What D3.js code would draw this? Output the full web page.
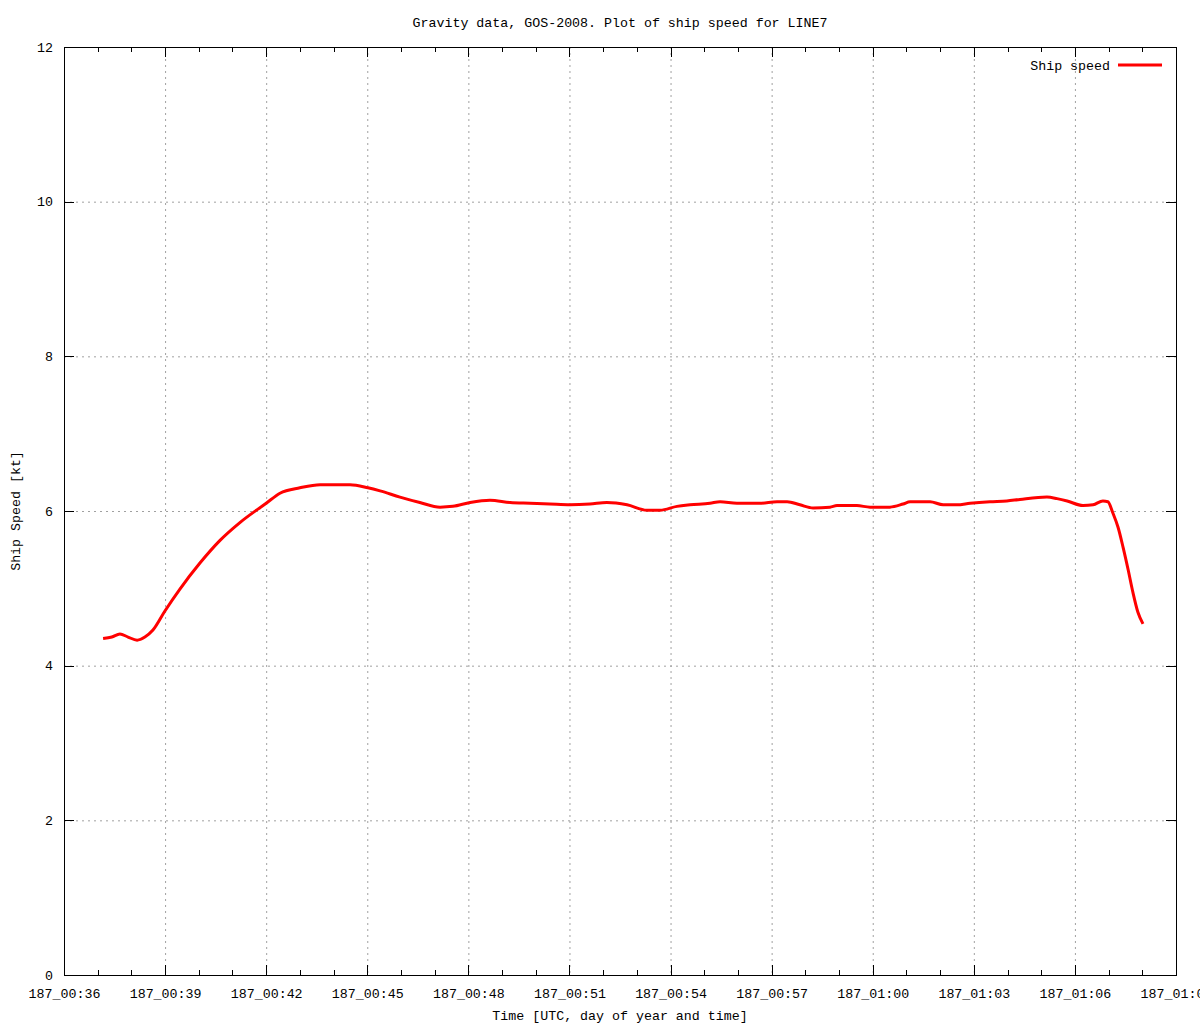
<!DOCTYPE html>
<html><head><meta charset="utf-8">
<script src="https://cdn.jsdelivr.net/npm/d3@7"></script>
<style>
body{margin:0;background:#fff;}
svg text{font-family:"Liberation Mono","DejaVu Sans Mono",monospace;font-size:13.3px;fill:#000;}
</style></head>
<body><svg id="c" width="1200" height="1024"></svg>
<script>
const title = "Gravity data, GOS-2008. Plot of ship speed for LINE7";
const xLabel = "Time [UTC, day of year and time]";
const yLabel = "Ship Speed [kt]";
const seriesName = "Ship speed";
// time in minutes after 00:00 UTC, day 187
const timeMin = [37.16,37.42,37.66,37.90,38.17,38.40,38.64,39.00,39.44,40.04,40.63,41.22,42.00,42.41,43.00,43.60,44.49,45.02,45.38,45.97,46.56,47.16,47.54,48.05,48.64,49.24,49.83,50.42,51.02,51.61,52.11,52.71,53.30,53.69,54.19,54.58,55.17,55.47,55.97,56.65,57.16,57.46,57.84,58.23,58.73,58.94,59.53,59.92,60.51,60.90,61.11,61.70,62.09,62.50,62.89,63.48,63.98,64.37,65.17,65.47,65.77,66.24,66.54,66.83,66.98,67.13,67.28,67.43,67.58,67.72,67.87,68.02];
const speed = [4.35,4.37,4.41,4.37,4.33,4.37,4.46,4.71,4.99,5.33,5.62,5.85,6.10,6.23,6.30,6.34,6.34,6.30,6.26,6.18,6.11,6.05,6.06,6.11,6.14,6.11,6.10,6.09,6.08,6.09,6.11,6.08,6.01,6.01,6.06,6.08,6.10,6.12,6.10,6.10,6.12,6.12,6.08,6.04,6.05,6.07,6.07,6.05,6.05,6.09,6.12,6.12,6.08,6.08,6.10,6.12,6.13,6.15,6.18,6.16,6.13,6.07,6.08,6.13,6.12,5.97,5.79,5.53,5.24,4.95,4.69,4.54];
const xTicks = [36,39,42,45,48,51,54,57,60,63,66,69];
const xMinorTicks = d3.range(36,70);
const yTicks = [0,2,4,6,8,10,12];

const L=64,R=1176,T=47,B=975;
const svg=d3.select("#c");
const x=d3.scaleLinear().domain([36,69]).range([L,R]);
const y=d3.scaleLinear().domain([0,12]).range([B,T]);
const fmt=m=>{const h=Math.floor(m/60),mm=m%60;return "187_"+String(h).padStart(2,"0")+":"+String(mm).padStart(2,"0");};

// grid
const g=svg.append("g");
g.selectAll(".gx").data(xTicks.filter(v=>v>36&&v<69)).join("line")
 .attr("x1",d=>x(d)+0.5).attr("x2",d=>x(d)+0.5).attr("y1",T).attr("y2",B)
 .attr("stroke","#a0a0a0").attr("stroke-dasharray","2,4");
g.selectAll(".gy").data(yTicks.filter(v=>v>0&&v<12)).join("line")
 .attr("y1",d=>y(d)+0.5).attr("y2",d=>y(d)+0.5).attr("x1",L).attr("x2",R)
 .attr("stroke","#a0a0a0").attr("stroke-dasharray","2,4");

// axes (ticks inward)
const ax=svg.append("g").attr("shape-rendering","crispEdges");
ax.append("g").attr("transform",`translate(0,${B})`).call(d3.axisBottom(x).tickValues(xMinorTicks).tickSize(-5).tickFormat("")).call(s=>s.select(".domain").remove());
ax.append("g").attr("transform",`translate(0,${B})`).call(d3.axisBottom(x).tickValues(xTicks).tickSize(-10).tickPadding(14).tickFormat(fmt))
 .call(s=>{s.select(".domain").remove();s.selectAll("text").attr("font-size",null).attr("font-family",null);});
ax.append("g").attr("transform",`translate(0,${T})`).call(d3.axisTop(x).tickValues(xMinorTicks).tickSize(-5).tickFormat("")).call(s=>s.select(".domain").remove());
ax.append("g").attr("transform",`translate(0,${T})`).call(d3.axisTop(x).tickValues(xTicks).tickSize(-10).tickFormat("")).call(s=>s.select(".domain").remove());
ax.append("g").attr("transform",`translate(${L},0)`).call(d3.axisLeft(y).tickValues(yTicks).tickSize(-10).tickPadding(11).tickFormat(d3.format("d")))
 .call(s=>{s.select(".domain").remove();s.selectAll("text").attr("font-size",null).attr("font-family",null);});
ax.append("g").attr("transform",`translate(${R},0)`).call(d3.axisRight(y).tickValues(yTicks).tickSize(-10).tickFormat("")).call(s=>s.select(".domain").remove());
ax.selectAll(".tick line").attr("stroke","#000");
ax.append("rect").attr("x",L).attr("y",T).attr("width",R-L).attr("height",B-T).attr("fill","none").attr("stroke","#000");

// line
const line=d3.line().x((d,i)=>x(timeMin[i])).y(d=>y(d)).curve(d3.curveMonotoneX);
svg.append("path").datum(speed).attr("d",line).attr("fill","none").attr("stroke","#ff0000").attr("stroke-width",3).attr("stroke-linejoin","round");

// titles
svg.append("text").attr("x",620).attr("y",27).attr("text-anchor","middle").text(title);
svg.append("text").attr("x",620).attr("y",1020).attr("text-anchor","middle").text(xLabel);
svg.append("text").attr("transform","translate(20,511) rotate(-90)").attr("text-anchor","middle").text(yLabel);

// legend
svg.append("text").attr("x",1110).attr("y",70).attr("text-anchor","end").text(seriesName);
svg.append("line").attr("x1",1118).attr("x2",1162).attr("y1",65).attr("y2",65).attr("stroke","#ff0000").attr("stroke-width",3);
</script></body></html>
